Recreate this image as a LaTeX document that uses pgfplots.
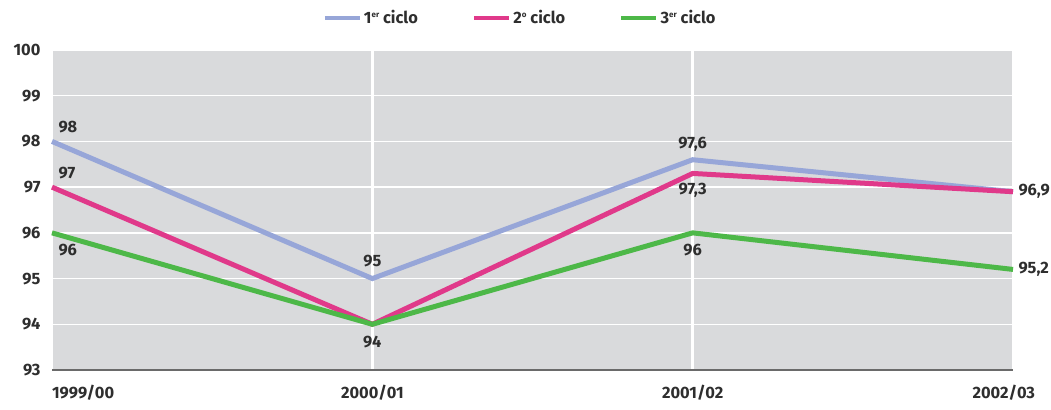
\documentclass[border=0pt]{standalone}
\usepackage{pgfplots}
\pgfplotsset{compat=1.18}
\usepackage{fontspec}
\setmainfont{Fira Sans}
\definecolor{cblue}{HTML}{97A6D8}
\definecolor{cpink}{HTML}{E0398A}
\definecolor{cgreen}{HTML}{4DB848}
\definecolor{cbg}{HTML}{D9DADC}
\definecolor{ctxt}{HTML}{2E2E2E}
\definecolor{caxis}{HTML}{6A6A6A}
\newcommand{\supx}[1]{\raisebox{0.75ex}{\fontsize{8}{8}\selectfont #1}}
\begin{document}
\begin{tikzpicture}[font=\fontsize{16.5}{19}\selectfont\bfseries, text=ctxt]
\useasboundingbox (-52bp,-40bp) rectangle (999bp,370bp);
\begin{axis}[
  scale only axis, width=961bp, height=320bp,
  xmin=0, xmax=3, ymin=93, ymax=100,
  xtick={0,1,2,3},
  xticklabels={\makebox[0pt][l]{1999/00},2000/01,2001/02,\makebox[0pt][r]{2002/03\hspace{-22bp}}},
  ytick={93,...,100},
  /pgf/number format/assume math mode=true,
  major tick length=0pt,
  axis background/.style={fill=cbg},
  axis x line*=bottom, axis y line*=left,
  x axis line style={draw=caxis, line width=2.5bp, -},
  y axis line style={draw=none},
  xmajorgrids, ymajorgrids,
  x grid style={white, line width=2.5bp},
  y grid style={white, line width=1.5bp},
  xticklabel style={anchor=north, yshift=-12bp, text=ctxt},
  yticklabel style={anchor=east, xshift=-8bp, text=ctxt},
  legend columns=3,
  legend style={draw=none, fill=none, at={(axis description cs:0.487,1)}, anchor=center, yshift=32bp,
    /tikz/every even column/.append style={column sep=52bp}, font=\fontsize{16.5}{18}\selectfont\bfseries, text=ctxt},
  legend image code/.code={\draw[#1, line width=4.5bp] (0bp,0bp) -- (35bp,0bp);},
  clip=false,
]
\addplot[cblue, line width=5bp] coordinates {(0,98) (1,95) (2,97.6) (3,96.9)};
\addlegendentry{1\supx{er} ciclo}
\addplot[cpink, line width=5bp] coordinates {(0,97) (1,94) (2,97.3) (3,96.9)};
\addlegendentry{2\supx{o} ciclo}
\addplot[cgreen, line width=5bp] coordinates {(0,96) (1,94) (2,96) (3,95.2)};
\addlegendentry{3\supx{er} ciclo}
\node[anchor=south west, xshift=3bp, yshift=5bp] at (axis cs:0,98) {98};
\node[anchor=south west, xshift=3bp, yshift=5bp] at (axis cs:0,97) {97};
\node[anchor=north west, xshift=3bp, yshift=-8bp] at (axis cs:0,96) {96};
\node[anchor=south, yshift=8bp] at (axis cs:1,95) {95};
\node[anchor=north, yshift=-8bp] at (axis cs:1,94) {94};
\node[anchor=south, yshift=5bp] at (axis cs:2,97.6) {97,6};
\node[anchor=north, yshift=-6bp] at (axis cs:2,97.3) {97,3};
\node[anchor=north, yshift=-8bp] at (axis cs:2,96) {96};
\node[anchor=west, xshift=2bp] at (axis cs:3,96.9) {96,9};
\node[anchor=west, xshift=2bp] at (axis cs:3,95.2) {95,2};
\end{axis}
\end{tikzpicture}
\end{document}
